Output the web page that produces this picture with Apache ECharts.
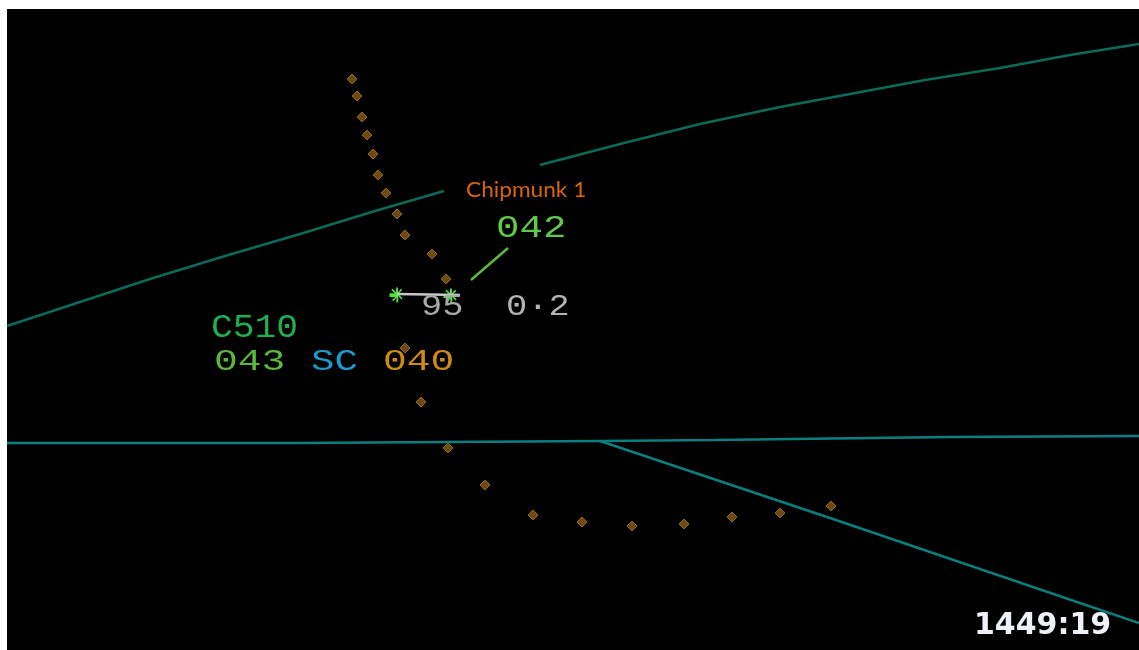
<!DOCTYPE html>
<html><head><meta charset="utf-8">
<style>html,body{margin:0;padding:0;background:#fff}#c{width:1139px;height:650px}</style>
<script src="https://cdn.jsdelivr.net/npm/echarts@6/dist/echarts.min.js"></script>
</head><body><div id="c"></div>
<script>
const trackDots = [[352,79],[357,96],[362,117],[367,135],[373,154],[378,175],[386,193],[397,214],[405,235],[432,254],[446,279],[405,348],[421,402],[448,448],[485,485],[533,515],[582,522],[632,526],[684,524],[732,517],[780,513],[831,506]];
const upperLeft = [[7,326],[80,302],[150,279],[225,256],[300,234],[375,211],[444,191]];
const upperRight = [[540,165],[620,144],[700,124],[780,107],[850,94],[925,80],[1000,68],[1070,55],[1139,44]];
const horizontal = [[7,443],[296,443],[297,441],[600,441],[715,440],[950,437],[1139,436]];
const branch = [[600,441],[830,518],[1139,623]];
const leader = [[471,280],[508,248]];
const vectorLine = [[397,294],[460,295]];
const targets = [[397,295],[451,296]];
const labels = [
  ['Chipmunk 1',466,190,'#d9650a','22px "Lato"',1.03],
  ['042',496,229,'#62c84a','31px "Liberation Mono"',1.26],
  ['95',421,307,'#a8a8a8','29px "Liberation Mono"',1.22],
  ['0·2',506,307,'#b4b4b4','29px "Liberation Mono"',1.22],
  ['C510',211,328,'#1fae50','33px "Liberation Mono"',1.1],
  ['043',214,362,'#5cb83c','30px "Liberation Mono"',1.32],
  ['SC',311,362,'#1a9ad0','30px "Liberation Mono"',1.3],
  ['040',383,362,'#d08c10','30px "Liberation Mono"',1.32],
  ['1449:19',974,626,'#eef2f6','bold 30px "DejaVu Sans"',1.0]
];
const starPath = 'path://M10.5 0h3v7.5l5-5.5 2 2-5.5 5H24v3h-8.5l5.5 5-2 2-5-5.5V24h-3v-7.5l-5 5.5-2-2 5.5-5H0V9h8.5L3 4l2-2 5.5 5.5z';
const line = (data,color,w) => ({type:'line',data,symbol:'none',smooth:false,silent:true,animation:false,lineStyle:{color,width:w}});
const chart = echarts.init(document.getElementById('c'),null,{renderer:'canvas'});
chart.setOption({
  animation:false,
  backgroundColor:'#ffffff',
  grid:{show:true,left:7,top:9,right:0,bottom:0,backgroundColor:'#000',borderWidth:0},
  xAxis:{type:'value',min:7,max:1139,show:false},
  yAxis:{type:'value',min:9,max:650,inverse:true,show:false},
  series:[
    line(upperLeft,'#0b6b58',2.5),
    line(upperRight,'#0b6b58',2.5),
    line(horizontal,'#0a7f80',2.5),
    line(branch,'#0a7f80',2.5),
    {type:'scatter',data:trackDots,symbol:'diamond',symbolSize:10,silent:true,itemStyle:{color:'#6f4a10',borderColor:'#94661a',borderWidth:1,opacity:1}},
    line(leader,'#5cb83c',2.5),
    {type:'scatter',data:targets,symbol:starPath,symbolSize:15,silent:true,itemStyle:{color:'#50e040',opacity:1}},
    line(vectorLine,'#c8c8c8',2.5)
  ],
  graphic:labels.map(([text,x,y,fill,font,sx])=>({type:'text',x,y,scaleX:sx,silent:true,z:10,style:{text,fill,font,align:'left',verticalAlign:'middle'}}))
});
</script></body></html>
